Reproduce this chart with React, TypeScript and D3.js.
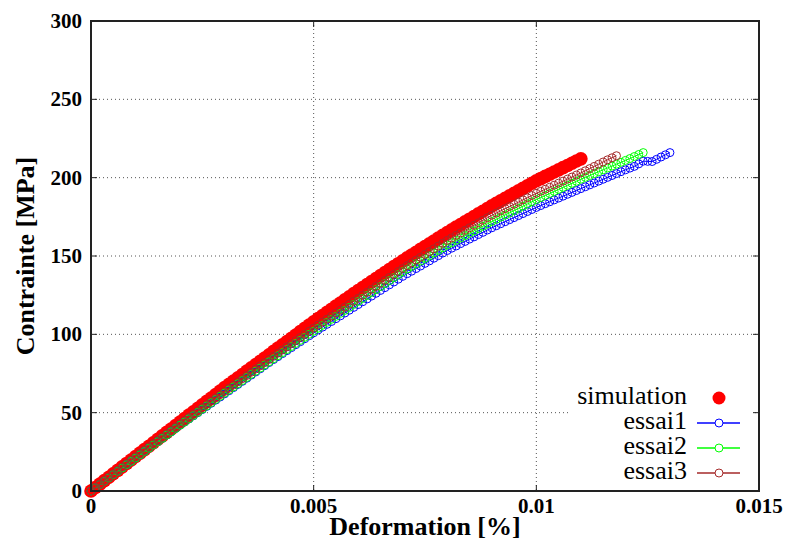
import React from "react";
import * as d3 from "d3";

const STRAIN = [
  0, 0.0001, 0.0002, 0.0003, 0.0004, 0.0005, 0.0006, 0.0007, 0.0008, 0.0009,
  0.001, 0.0011, 0.0012, 0.0013, 0.0014, 0.0015, 0.0016, 0.0017, 0.0018, 0.0019,
  0.002, 0.0021, 0.0022, 0.0023, 0.0024, 0.0025, 0.0026, 0.0027, 0.0028, 0.0029,
  0.003, 0.0031, 0.0032, 0.0033, 0.0034, 0.0035, 0.0036, 0.0037, 0.0038, 0.0039,
  0.004, 0.0041, 0.0042, 0.0043, 0.0044, 0.0045, 0.0046, 0.0047, 0.0048, 0.0049,
  0.005, 0.0051, 0.0052, 0.0053, 0.0054, 0.0055, 0.0056, 0.0057, 0.0058, 0.0059,
  0.006, 0.0061, 0.0062, 0.0063, 0.0064, 0.0065, 0.0066, 0.0067, 0.0068, 0.0069,
  0.007, 0.0071, 0.0072, 0.0073, 0.0074, 0.0075, 0.0076, 0.0077, 0.0078, 0.0079,
  0.008, 0.0081, 0.0082, 0.0083, 0.0084, 0.0085, 0.0086, 0.0087, 0.0088, 0.0089,
  0.009, 0.0091, 0.0092, 0.0093, 0.0094, 0.0095, 0.0096, 0.0097, 0.0098, 0.0099,
  0.01, 0.0101, 0.0102, 0.0103, 0.0104, 0.0105, 0.0106, 0.0107, 0.0108, 0.0109,
  0.011, 0.0111, 0.0112, 0.0113, 0.0114, 0.0115, 0.0116, 0.0117, 0.0118, 0.0119,
  0.012, 0.0121, 0.0122, 0.0123, 0.0124, 0.0125, 0.0126, 0.0127, 0.0128, 0.0129,
  0.013,
];

const SIMULATION = [
  0, 2.2, 4.4, 6.6, 8.8, 11, 13.2, 15.4, 17.6, 19.8,
  22, 24.2, 26.4, 28.6, 30.8, 33, 35.2, 37.4, 39.6, 41.8,
  44, 46.2, 48.4, 50.6, 52.8, 55, 57.2, 59.4, 61.6, 63.8,
  66, 68.1, 70.2, 72.3, 74.4, 76.5, 78.6, 80.7, 82.8, 84.9,
  87, 89.1, 91.2, 93.3, 95.4, 97.5, 99.6, 101.7, 103.8, 105.9,
  108, 110, 112, 114, 116, 118, 120, 122, 124, 126,
  128, 129.9, 131.8, 133.7, 135.6, 137.5, 139.4, 141.3, 143.2, 145.1,
  147, 148.8, 150.6, 152.4, 154.2, 156, 157.8, 159.6, 161.4, 163.2,
  165, 166.7, 168.4, 170.1, 171.8, 173.5, 175.2, 176.9, 178.6, 180.3,
  182, 183.6, 185.2, 186.8, 188.4, 190, 191.6, 193.2, 194.8, 196.4,
  198, 199.4, 200.8, 202.2, 203.6, 205, 206.4, 207.8, 209.2, 210.6,
  212,
];

const ESSAI1 = [
  0, 2.1, 4.2, 6.3, 8.4, 10.5, 12.6, 14.7, 16.8, 18.9,
  21, 23.1, 25.2, 27.3, 29.4, 31.5, 33.6, 35.7, 37.8, 39.9,
  42, 44, 46, 48, 50, 52, 54, 56, 58, 60,
  62, 64, 66, 68, 70, 72, 74, 76, 78, 80,
  82, 83.9, 85.8, 87.7, 89.6, 91.5, 93.4, 95.3, 97.2, 99.1,
  101, 102.8, 104.6, 106.4, 108.2, 110, 111.8, 113.6, 115.4, 117.2,
  119, 120.8, 122.6, 124.4, 126.2, 128, 129.8, 131.6, 133.4, 135.2,
  137, 138.7, 140.3, 142, 143.6, 145.3, 146.9, 148.6, 150.2, 151.9,
  153.5, 155, 156.4, 157.9, 159.3, 160.8, 162.2, 163.7, 165.1, 166.6,
  168, 169.3, 170.6, 171.9, 173.2, 174.5, 175.8, 177.1, 178.4, 179.7,
  181, 182.2, 183.4, 184.6, 185.8, 187, 188.2, 189.4, 190.6, 191.8,
  193, 194.2, 195.4, 196.6, 197.8, 199, 200.2, 201.4, 202.6, 203.8,
  205, 206.1, 207.2, 208.8, 210.5, 210.4, 210.3, 211.7, 213.2, 214.6,
  216,
];

const ESSAI2 = [
  0, 2.1, 4.2, 6.3, 8.4, 10.5, 12.6, 14.7, 16.8, 18.9,
  21, 23.1, 25.2, 27.3, 29.4, 31.5, 33.6, 35.7, 37.8, 39.9,
  42, 44.05, 46.1, 48.15, 50.2, 52.25, 54.3, 56.35, 58.4, 60.45,
  62.5, 64.5, 66.5, 68.5, 70.5, 72.5, 74.5, 76.5, 78.5, 80.5,
  82.5, 84.45, 86.4, 88.35, 90.3, 92.25, 94.2, 96.15, 98.1, 100.05,
  102, 103.9, 105.8, 107.7, 109.6, 111.5, 113.4, 115.3, 117.2, 119.1,
  121, 122.9, 124.8, 126.7, 128.6, 130.5, 132.4, 134.3, 136.2, 138.1,
  140, 141.7, 143.4, 145.1, 146.8, 148.5, 150.2, 151.9, 153.6, 155.3,
  157, 158.5, 160, 161.5, 163, 164.5, 166, 167.5, 169, 170.5,
  172, 173.4, 174.8, 176.2, 177.6, 179, 180.4, 181.8, 183.2, 184.6,
  186, 187.3, 188.6, 189.9, 191.2, 192.5, 193.8, 195.1, 196.4, 197.7,
  199, 200.2, 201.4, 202.6, 203.8, 205, 206.2, 207.4, 208.6, 209.8,
  211, 212.2, 213.5, 214.8, 216,
];

const ESSAI3 = [
  0, 2.2, 4.4, 6.6, 8.8, 11, 13.2, 15.4, 17.6, 19.8,
  22, 24.1, 26.2, 28.3, 30.4, 32.5, 34.6, 36.7, 38.8, 40.9,
  43, 45.05, 47.1, 49.15, 51.2, 53.25, 55.3, 57.35, 59.4, 61.45,
  63.5, 65.55, 67.6, 69.65, 71.7, 73.75, 75.8, 77.85, 79.9, 81.95,
  84, 86, 88, 90, 92, 94, 96, 98, 100, 102,
  104, 105.9, 107.8, 109.7, 111.6, 113.5, 115.4, 117.3, 119.2, 121.1,
  123, 124.9, 126.8, 128.7, 130.6, 132.5, 134.4, 136.3, 138.2, 140.1,
  142, 143.8, 145.6, 147.4, 149.2, 151, 152.8, 154.6, 156.4, 158.2,
  160, 161.6, 163.2, 164.8, 166.4, 168, 169.6, 171.2, 172.8, 174.4,
  176, 177.4, 178.8, 180.2, 181.6, 183, 184.4, 185.8, 187.2, 188.6,
  190, 191.3, 192.6, 193.9, 195.2, 196.5, 197.8, 199.1, 200.4, 201.7,
  203, 204.4, 205.8, 207.2, 208.6, 210, 211.4, 212.7, 214,
];

const X_TICKS = [0, 0.005, 0.01, 0.015];
const X_TICK_LABELS = ["0", "0.005", "0.01", "0.015"];
const Y_TICKS = [0, 50, 100, 150, 200, 250, 300];
const LEGEND = ["simulation", "essai1", "essai2", "essai3"];
const COLORS = ["#ff0000", "#0000ff", "#00ff00", "#a52a2a"];

const W = 786;
const H = 541;
const L = 91;
const R = 759;
const T = 21;
const B = 491;

export default function App() {
  const x = d3.scaleLinear().domain([0, 0.015]).range([L, R]);
  const y = d3.scaleLinear().domain([0, 300]).range([B, T]);
  const font = "'Liberation Serif', 'Times New Roman', serif";
  const series = [SIMULATION, ESSAI1, ESSAI2, ESSAI3];
  const line = d3
    .line<[number, number]>()
    .x((d) => x(d[0]))
    .y((d) => y(d[1]));

  return (
    <svg
      width={W}
      height={H}
      style={{ position: "absolute", left: 0, top: 0, background: "#fff" }}
    >
      <rect x={0} y={0} width={W} height={H} fill="#fff" />
      {/* grid */}
      {X_TICKS.filter((t) => t > 0 && t < 0.015).map((t) => (
        <line
          key={"gx" + t}
          x1={x(t)}
          x2={x(t)}
          y1={T}
          y2={B}
          stroke="#555"
          strokeWidth={1}
          strokeDasharray="1,3"
        />
      ))}
      {Y_TICKS.filter((t) => t > 0 && t < 300).map((t) => (
        <line
          key={"gy" + t}
          x1={L}
          x2={R}
          y1={y(t)}
          y2={y(t)}
          stroke="#555"
          strokeWidth={1}
          strokeDasharray="1,3"
        />
      ))}
      {/* ticks */}
      {X_TICKS.map((t) => (
        <g key={"tx" + t}>
          <line x1={x(t)} x2={x(t)} y1={B} y2={B - 6} stroke="#222" />
          <line x1={x(t)} x2={x(t)} y1={T} y2={T + 6} stroke="#222" />
        </g>
      ))}
      {Y_TICKS.map((t) => (
        <g key={"ty" + t}>
          <line x1={L} x2={L + 6} y1={y(t)} y2={y(t)} stroke="#222" />
          <line x1={R} x2={R - 6} y1={y(t)} y2={y(t)} stroke="#222" />
        </g>
      ))}
      {/* data */}
      {series.map((vals, si) => {
        const pts: [number, number][] = vals.map((v, i) => [STRAIN[i], v]);
        return (
          <g key={"s" + si}>
            {si > 0 && (
              <path d={line(pts) || ""} fill="none" stroke={COLORS[si]} strokeWidth={1} />
            )}
            {pts.map((p, i) =>
              si === 0 ? (
                <circle key={i} cx={x(p[0])} cy={y(p[1])} r={6.8} fill={COLORS[0]} />
              ) : (
                <circle
                  key={i}
                  cx={x(p[0])}
                  cy={y(p[1])}
                  r={4}
                  fill="none"
                  stroke={COLORS[si]}
                  strokeWidth={1}
                />
              )
            )}
          </g>
        );
      })}
      {/* legend */}
      <rect x={570} y={380} width={182} height={106} fill="#fff" />
      {LEGEND.map((name, i) => {
        const cy = 398 + i * 25;
        return (
          <g key={name}>
            <text
              x={687}
              y={cy + 6}
              textAnchor="end"
              fontFamily={font}
              fontSize={26}
              fill="#000"
            >
              {name}
            </text>
            {i === 0 ? (
              <circle cx={719} cy={cy} r={6.5} fill={COLORS[0]} />
            ) : (
              <g>
                <line x1={697} x2={740} y1={cy} y2={cy} stroke={COLORS[i]} strokeWidth={1.3} />
                <circle cx={719} cy={cy} r={4} fill="#fff" stroke={COLORS[i]} strokeWidth={1} />
              </g>
            )}
          </g>
        );
      })}
      {/* frame */}
      <rect x={L} y={T} width={R - L} height={B - T} fill="none" stroke="#222" strokeWidth={2} />
      {/* tick labels */}
      {X_TICKS.map((t, i) => (
        <text
          key={"lx" + t}
          x={x(t)}
          y={513}
          textAnchor="middle"
          fontFamily={font}
          fontWeight="bold"
          fontSize={21}
        >
          {X_TICK_LABELS[i]}
        </text>
      ))}
      {Y_TICKS.map((t) => (
        <text
          key={"ly" + t}
          x={82}
          y={y(t) + 7}
          textAnchor="end"
          fontFamily={font}
          fontWeight="bold"
          fontSize={21}
        >
          {t}
        </text>
      ))}
      {/* axis titles */}
      <text
        x={(L + R) / 2}
        y={535}
        textAnchor="middle"
        fontFamily={font}
        fontWeight="bold"
        fontSize={26}
      >
        Deformation [%]
      </text>
      <text
        transform={`translate(34, ${(T + B) / 2}) rotate(-90)`}
        textAnchor="middle"
        fontFamily={font}
        fontWeight="bold"
        fontSize={26}
      >
        Contrainte [MPa]
      </text>
    </svg>
  );
}
